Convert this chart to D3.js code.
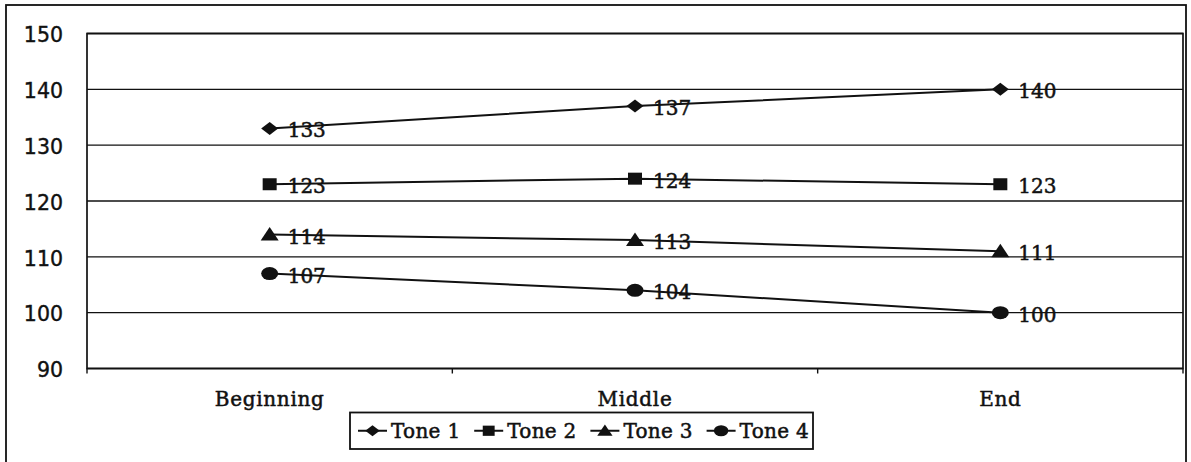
<!DOCTYPE html>
<html><head><meta charset="utf-8">
<script src="https://cdn.jsdelivr.net/npm/d3@7"></script>
<style>
html,body{margin:0;padding:0;background:#fff;}
svg{display:block;}
</style></head>
<body>
<script>
const categories = ["Beginning", "Middle", "End"];
const seriesNames = ["Tone 1", "Tone 2", "Tone 3", "Tone 4"];
const tone1 = [133, 137, 140];
const tone2 = [123, 124, 123];
const tone3 = [114, 113, 111];
const tone4 = [107, 104, 100];
const yTicks = [90, 100, 110, 120, 130, 140, 150];
const markerTypes = ["diamond", "square", "triangle", "circle"];

const series = [tone1, tone2, tone3, tone4].map((v, i) => ({name: seriesNames[i], values: v, marker: markerTypes[i]}));

const W = 1191, H = 462;
const svg = d3.select("body").append("svg").attr("width", W).attr("height", H);

// outer border
svg.append("rect").attr("x", 6).attr("y", 5).attr("width", 1180).attr("height", 470)
  .attr("fill", "none").attr("stroke", "#111").attr("stroke-width", 1.8);

const plot = {left: 87, top: 33.5, right: 1183, bottom: 368.5};
const x = d3.scaleBand().domain(categories).range([plot.left, plot.right]);
const y = d3.scaleLinear().domain([90, 150]).range([plot.bottom, plot.top]);

// gridlines
svg.append("g").selectAll("line").data(yTicks).join("line")
  .attr("x1", plot.left).attr("x2", plot.right)
  .attr("y1", d => y(d)).attr("y2", d => y(d))
  .attr("stroke", "#111").attr("stroke-width", 1.4);

// plot border
svg.append("rect").attr("x", plot.left).attr("y", plot.top)
  .attr("width", plot.right - plot.left).attr("height", plot.bottom - plot.top)
  .attr("fill", "none").attr("stroke", "#111").attr("stroke-width", 1.7);

const serif = "'DejaVu Serif', Batang, serif";

// y axis labels
const yAxis = d3.axisLeft(y).tickValues(yTicks).tickSize(0).tickPadding(24);
const yg = svg.append("g").attr("transform", `translate(${plot.left},0)`).call(yAxis);
yg.select(".domain").remove();
yg.selectAll("text").attr("font-family", "'DejaVu Sans', Verdana, sans-serif")
  .attr("font-size", 20.5).attr("fill", "#111").attr("stroke", "#111").attr("stroke-width", 0.4)
  .attr("dy", "0.4em");

// x axis labels
const xAxis = d3.axisBottom(x).tickSize(0).tickPadding(23);
const xg = svg.append("g").attr("transform", `translate(0,${plot.bottom})`).call(xAxis);
xg.select(".domain").remove();
xg.selectAll("text").attr("font-family", serif)
  .attr("font-size", 20).attr("fill", "#111").attr("stroke", "#111").attr("stroke-width", 0.5)
  .attr("letter-spacing", 0.7).attr("dy", "0.71em");
// ticks at band boundaries
const bounds = categories.map(c => x(c)).concat([plot.right]);
svg.append("g").selectAll("line").data(bounds).join("line")
  .attr("x1", d => d).attr("x2", d => d)
  .attr("y1", plot.bottom).attr("y2", plot.bottom + 5)
  .attr("stroke", "#111").attr("stroke-width", 1.4);

// markers
function markerPath(type, s) {
  const w = 8.5 * s, h = 6.5 * s;
  switch (type) {
    case "diamond": return `M${-w},0L0,${-h}L${w},0L0,${h}Z`;
    case "square": return `M${-7*s},${-6*s}H${7*s}V${6*s}H${-7*s}Z`;
    case "triangle": return `M${-9*s},${6*s}L0,${-7.5*s}L${9*s},${6*s}Z`;
    case "circle": return `M${-w},0A${w},${h} 0 1,0 ${w},0A${w},${h} 0 1,0 ${-w},0Z`;
  }
}

const cx = c => x(c) + x.bandwidth() / 2;
const line = d3.line().x((d, i) => cx(categories[i])).y(d => y(d));

const sg = svg.append("g").selectAll("g").data(series).join("g");
sg.append("path").attr("d", d => line(d.values)).attr("fill", "none")
  .attr("stroke", "#111").attr("stroke-width", 2);
sg.each(function(s) {
  const g = d3.select(this);
  g.selectAll("path.m").data(s.values).join("path").attr("class", "m")
    .attr("transform", (d, i) => `translate(${cx(categories[i])},${y(d)})`)
    .attr("d", markerPath(s.marker, 1)).attr("fill", "#111");
  g.selectAll("text").data(s.values).join("text")
    .attr("x", (d, i) => cx(categories[i]) + 18)
    .attr("y", d => y(d) + 9)
    .attr("font-family", serif).attr("font-size", 20)
    .attr("fill", "#111").attr("stroke", "#111").attr("stroke-width", 0.5).text(d => d);
});

// legend
const lg = svg.append("g");
const lx = 350, ly = 412.5, lw = 463, lh = 36.5;
lg.append("rect").attr("x", lx).attr("y", ly).attr("width", lw).attr("height", lh)
  .attr("fill", "#fff").attr("stroke", "#111").attr("stroke-width", 1.8);
const li = lg.selectAll("g").data(series).join("g")
  .attr("transform", (d, i) => `translate(${lx + 8 + i * 116.2},${ly + lh / 2})`);
li.append("line").attr("x1", 0).attr("x2", 29).attr("y1", 0).attr("y2", 0)
  .attr("stroke", "#111").attr("stroke-width", 2);
li.append("path").attr("transform", "translate(14.5,0)")
  .attr("d", d => markerPath(d.marker, 0.85)).attr("fill", "#111");
li.append("text").attr("x", 33).attr("y", 7)
  .attr("font-family", serif).attr("font-size", 20)
  .attr("letter-spacing", 0.3).attr("fill", "#111").attr("stroke", "#111").attr("stroke-width", 0.5)
  .text(d => d.name);
</script>
</body></html>
